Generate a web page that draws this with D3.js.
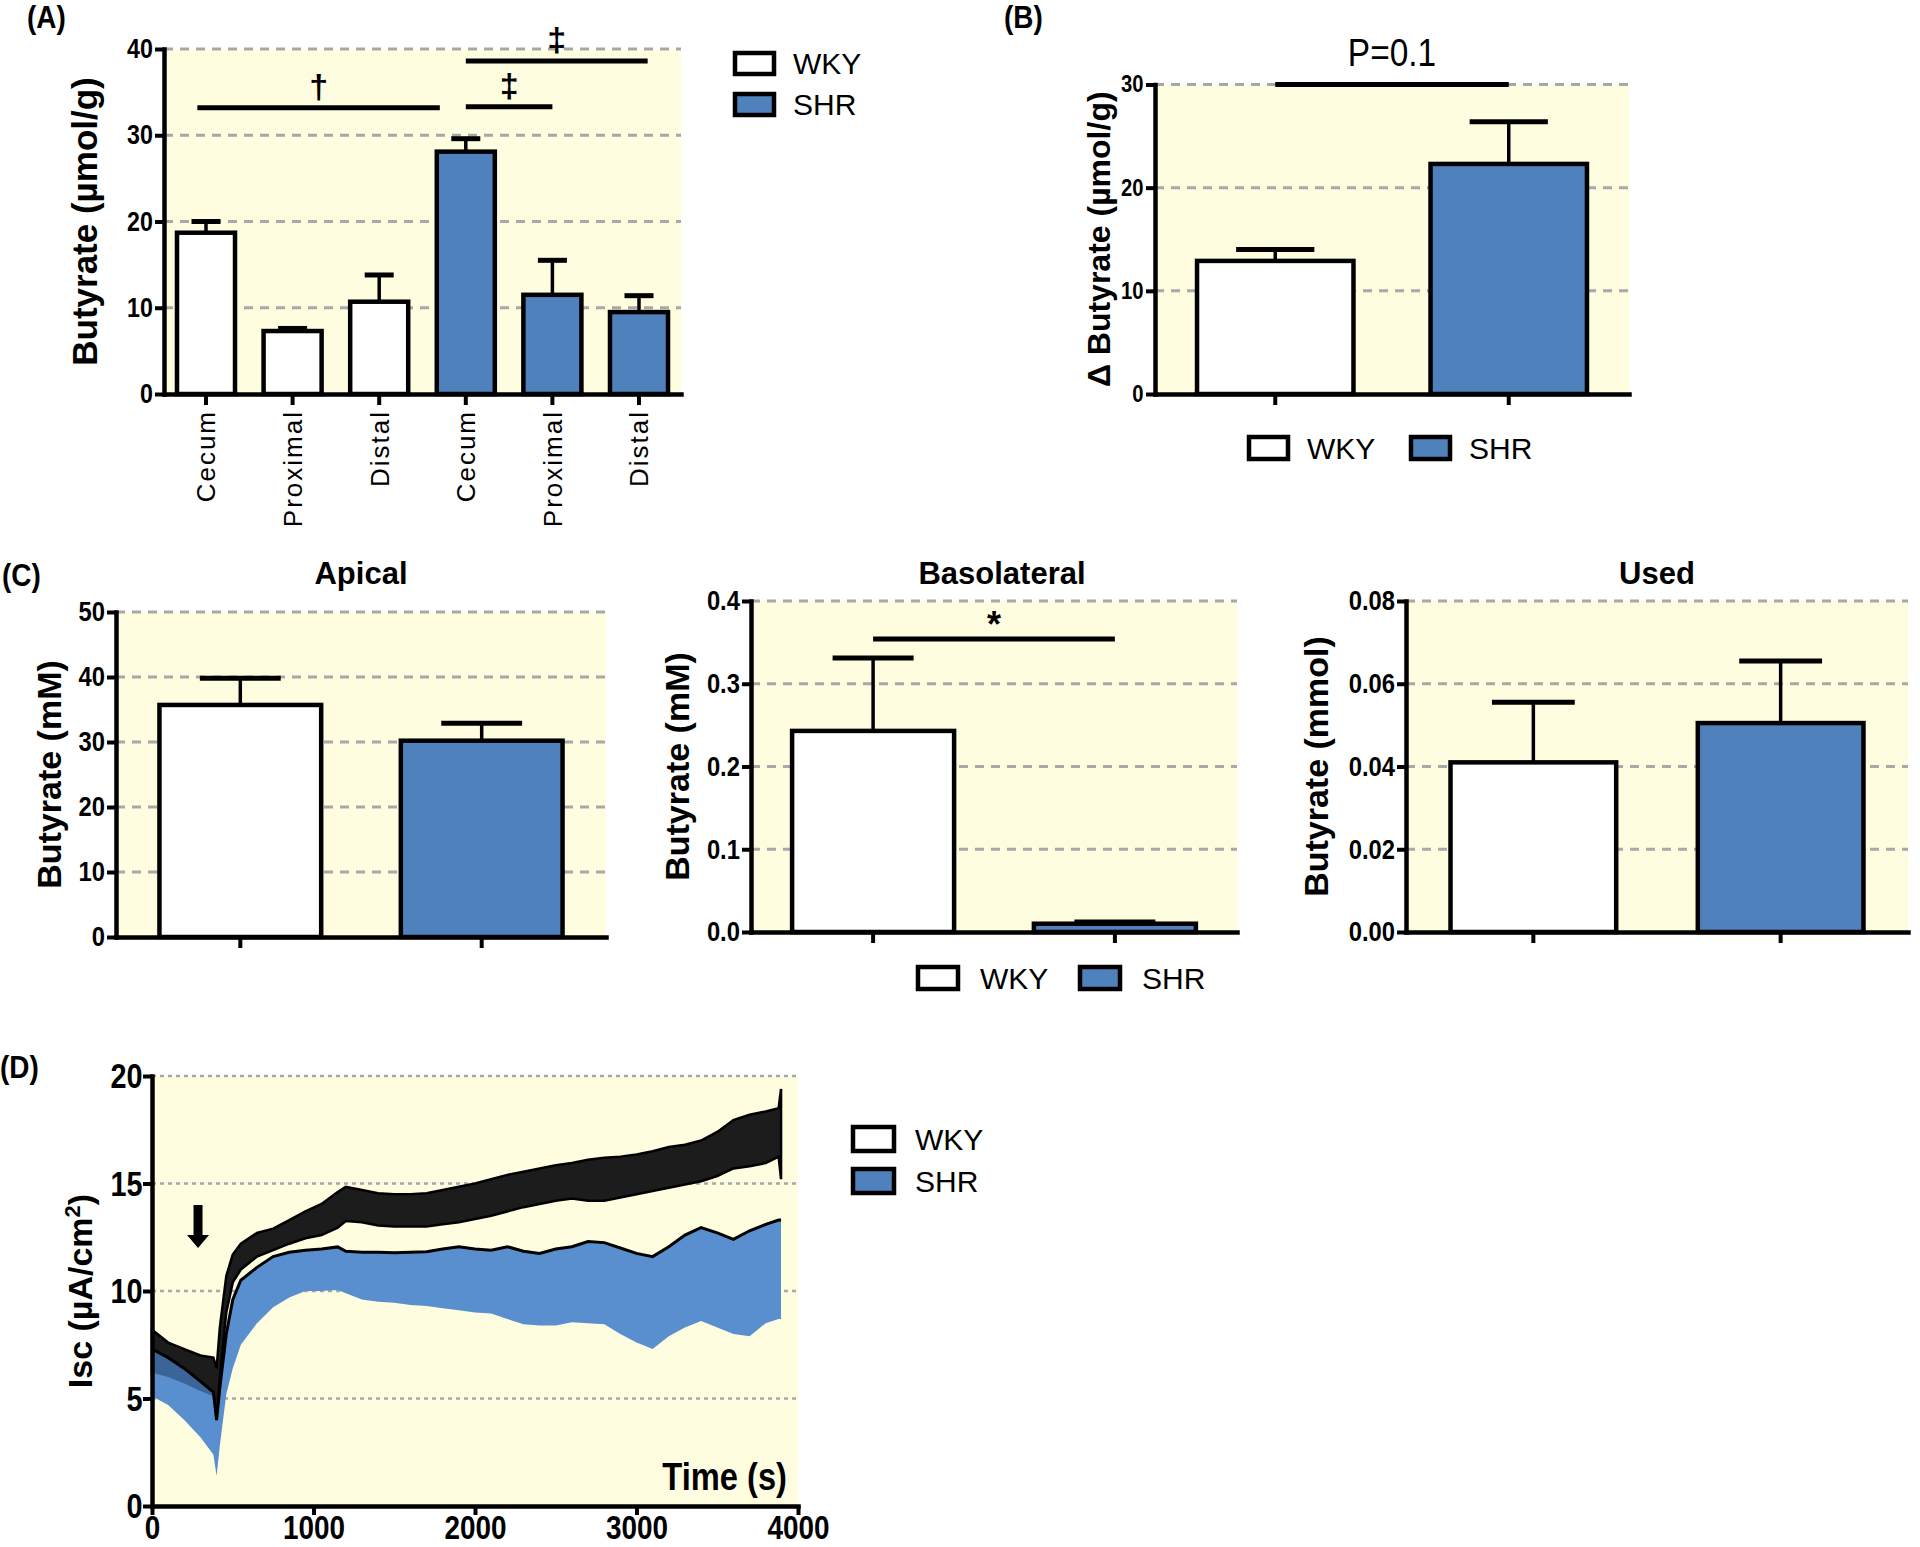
<!DOCTYPE html>
<html>
<head>
<meta charset="utf-8">
<script src="https://cdn.jsdelivr.net/npm/d3@7"></script>
<style>
  body { margin: 0; background: #fff; }
  svg { display: block; font-family: 'Liberation Sans', Arial, sans-serif; }
</style>
</head>
<body>
<div id="chart"></div>
<script>
// ---------- data ----------
let strains = ['WKY', 'SHR'];

// (A) butyrate by gut segment
let segmentsA = ['Cecum', 'Proximal', 'Distal', 'Cecum', 'Proximal', 'Distal'];
let strainA = ['WKY', 'WKY', 'WKY', 'SHR', 'SHR', 'SHR'];
let meanA = [18.7, 7.3, 10.7, 28.1, 11.5, 9.5];
let semA = [1.3, 0.3, 3.1, 1.5, 4.0, 1.9];
let ticksA = [0, 10, 20, 30, 40];
// significance bars: [from index, to index, level, symbol]
let sigA = [[-0.1, 2.7, 33.2, '\u2020'], [3.0, 4.0, 33.3, '\u2021'], [3.0, 5.1, 38.6, '\u2021']];

// (B) delta butyrate
let meanB = [12.9, 22.3];
let semB = [1.1, 4.1];
let ticksB = [0, 10, 20, 30];
let sigB = [0, 1, 30, 'P=0.1'];

// (C) Ussing chamber butyrate
let meanApical = [35.7, 30.2];
let semApical = [4.1, 2.7];
let ticksApical = [0, 10, 20, 30, 40, 50];

let meanBaso = [0.243, 0.010];
let semBaso = [0.088, 0.002];
let ticksBaso = [0, 0.1, 0.2, 0.3, 0.4];
let sigBaso = [0, 1, 0.354, '*'];

let meanUsed = [0.041, 0.0505];
let semUsed = [0.0145, 0.015];
let ticksUsed = [0, 0.02, 0.04, 0.06, 0.08];

// (D) Isc time course, mean +/- SEM envelopes
let timeD = [0, 100, 200, 300, 380, 400, 420, 460, 500, 550, 650, 750, 850, 950, 1050, 1150, 1200,
    1300, 1400, 1500, 1600, 1700, 1800, 1900, 2000, 2100, 2200, 2300, 2400, 2500, 2600, 2700, 2800,
    2900, 3000, 3100, 3200, 3300, 3400, 3500, 3600, 3700, 3800, 3880, 3895];
let wkyHigh = [8.2, 7.6, 7.3, 7.0, 6.9, 6.4, 8.3, 10.7, 11.7, 12.2, 12.7, 12.9, 13.3, 13.7, 14.05, 14.6, 14.85,
    14.7, 14.55, 14.5, 14.5, 14.55, 14.7, 14.85, 15.0, 15.2, 15.4, 15.55, 15.7, 15.85, 15.95, 16.1, 16.2,
    16.25, 16.35, 16.5, 16.7, 16.8, 17.0, 17.4, 17.95, 18.2, 18.35, 18.5, 19.4];
let wkyLow = [6.2, 6.0, 5.7, 5.35, 5.1, 3.9, 6.0, 9.0, 10.4, 11.0, 11.6, 11.9, 12.2, 12.45, 12.6, 12.95, 13.25,
    13.2, 13.05, 13.0, 13.0, 13.0, 13.1, 13.2, 13.35, 13.5, 13.7, 13.9, 14.05, 14.2, 14.3, 14.2, 14.2,
    14.35, 14.5, 14.65, 14.8, 14.95, 15.1, 15.35, 15.7, 15.8, 15.95, 16.25, 15.2];
let shrHigh = [7.3, 6.9, 6.4, 5.8, 5.3, 4.0, 5.5, 8.0, 9.6, 10.5, 11.1, 11.6, 11.8, 11.9, 11.95, 12.05, 11.85,
    11.8, 11.8, 11.78, 11.8, 11.83, 11.95, 12.06, 11.95, 11.9, 12.06, 11.85, 11.75, 11.95, 12.06, 12.3, 12.25,
    12.0, 11.75, 11.6, 12.06, 12.6, 12.95, 12.7, 12.4, 12.8, 13.1, 13.3, 13.3];
let shrLow = [5.1, 4.7, 4.0, 3.2, 2.4, 1.4, 2.8, 5.2, 6.4, 7.5, 8.5, 9.25, 9.7, 10.0, 10.0, 10.05, 9.9,
    9.6, 9.5, 9.45, 9.35, 9.3, 9.2, 9.1, 9.0, 8.95, 8.7, 8.45, 8.4, 8.4, 8.55, 8.5, 8.45,
    8.0, 7.6, 7.3, 7.9, 8.3, 8.6, 8.3, 8.0, 7.9, 8.5, 8.7, 8.7];
let ticksDx = [0, 1000, 2000, 3000, 4000];
let ticksDy = [0, 5, 10, 15, 20];
// butyrate addition: [time, arrow top, arrow tip]
let arrowD = [285, 14.0, 12.0];

// ---------- styles ----------
let cream = '#FFFDE0';
let blue = '#4F81BD';
let blueD = '#5A8FCF';
let blueDark = '#3B6499';
let gridColor = '#A8A8A8';
let fillOf = { WKY: '#ffffff', SHR: blue };

let svg = d3.select('#chart')
    .append('svg')
    .attr('width', 1920)
    .attr('height', 1547);

// Prism style tick labels are bold and a bit condensed
function styleAxis(ax, fontSize, squeeze) {
    ax.select('.domain').attr('stroke-width', 4.5).attr('stroke-linecap', 'square');
    ax.selectAll('.tick line').attr('stroke-width', 4);
    ax.selectAll('.tick text')
        .attr('font-family', "'Liberation Sans', Arial, sans-serif")
        .attr('font-weight', 'bold')
        .attr('font-size', fontSize)
        .attr('fill', '#000')
        .attr('transform', 'scale(' + squeeze + ',1)');
}

function gridLines(g, y, ticks, x1, x2, dash, width) {
    g.selectAll(null)
        .data(ticks.filter(d => d > 0))
        .enter()
        .append('line')
        .attr('x1', x1).attr('x2', x2)
        .attr('y1', d => y(d)).attr('y2', d => y(d))
        .attr('stroke', gridColor)
        .attr('stroke-width', width)
        .attr('stroke-dasharray', dash);
}

function text(g, x, y, str, size, opts) {
    opts = opts || {};
    let sx = opts.squeeze || 1;
    return g.append('text')
        .attr('transform', 'translate(' + x + ',' + y + ') scale(' + sx + ',1)')
        .attr('font-size', size)
        .attr('font-weight', opts.weight || 'normal')
        .attr('text-anchor', opts.anchor || 'start')
        .text(str);
}

// bar chart with one-sided SEM error bars
function barPanel(o) {
    let g = svg.append('g');
    let y = d3.scaleLinear().domain([0, o.max]).range([o.bottom, o.top]);
    let x = d3.scaleBand()
        .domain(d3.range(o.means.length))
        .range([o.left, o.right])
        .paddingInner(0.33)
        .paddingOuter(o.padOuter);

    g.append('rect')
        .attr('x', o.left).attr('y', o.top)
        .attr('width', o.right - o.left).attr('height', o.bottom - o.top)
        .attr('fill', cream);
    gridLines(g, y, o.ticks, o.left, o.right, '9,7', 3);

    let bw = x.bandwidth();
    g.selectAll(null)
        .data(o.means)
        .enter()
        .append('path')
        .attr('d', (d, i) => {
            let cx = x(i) + bw / 2;
            let top = y(d + o.sems[i]);
            return 'M' + cx + ',' + y(d) + 'V' + top;
        })
        .attr('stroke', '#000').attr('stroke-width', 3.5);
    g.selectAll(null)
        .data(o.means)
        .enter()
        .append('line')
        .attr('x1', (d, i) => x(i) + bw * 0.25)
        .attr('x2', (d, i) => x(i) + bw * 0.75)
        .attr('y1', (d, i) => y(d + o.sems[i]))
        .attr('y2', (d, i) => y(d + o.sems[i]))
        .attr('stroke', '#000').attr('stroke-width', 5);

    g.selectAll(null)
        .data(o.means)
        .enter()
        .append('rect')
        .attr('x', (d, i) => x(i))
        .attr('width', bw)
        .attr('y', d => y(d))
        .attr('height', d => y(0) - y(d))
        .attr('fill', (d, i) => fillOf[o.groups[i]])
        .attr('stroke', '#000')
        .attr('stroke-width', 4.5);

    let ya = g.append('g')
        .attr('transform', 'translate(' + o.left + ',0)')
        .call(d3.axisLeft(y).tickValues(o.ticks).tickFormat(o.fmt).tickSize(9).tickSizeOuter(0).tickPadding(4));
    styleAxis(ya, o.tickFont, o.squeeze);

    let xa = g.append('g')
        .attr('transform', 'translate(0,' + o.bottom + ')')
        .call(d3.axisBottom(x).tickSize(11).tickSizeOuter(0).tickFormat(''));
    styleAxis(xa, o.tickFont, 1);

    g.append('text')
        .attr('transform', 'translate(' + (o.left - o.labelGap) + ',' + ((o.top + o.bottom) / 2) + ') rotate(-90)')
        .attr('text-anchor', 'middle')
        .attr('dy', '0.36em')
        .attr('font-size', o.labelFont)
        .attr('font-weight', 'bold')
        .text(o.ylabel);

    if (o.title) {
        text(g, (o.left + o.right) / 2 + (o.titleShift || 0), 584, o.title, 31, { weight: 'bold', anchor: 'middle' });
    }
    return { g: g, x: x, y: y };
}

// significance bar; positions in band index units
function sigBar(p, s, size, gap, weight, squeeze) {
    let idx = d3.scaleLinear().domain([0, 1])
        .range([p.x(0) + p.x.bandwidth() / 2, p.x(1) + p.x.bandwidth() / 2]);
    let yy = p.y(s[2]);
    p.g.append('line')
        .attr('x1', idx(s[0])).attr('x2', idx(s[1]))
        .attr('y1', yy).attr('y2', yy)
        .attr('stroke', '#000').attr('stroke-width', 5);
    text(p.g, (idx(s[0]) + idx(s[1])) / 2, yy - gap, s[3], size, { weight: weight, anchor: 'middle', squeeze: squeeze });
}

function legend(g, x0, y0, dx, dy, w, h, gapText, size) {
    strains.forEach(function(s, i) {
        let bx = x0 + i * dx, by = y0 + i * dy;
        g.append('rect')
            .attr('x', bx).attr('y', by)
            .attr('width', w).attr('height', h)
            .attr('fill', fillOf[s])
            .attr('stroke', '#000')
            .attr('stroke-width', 4.5);
        text(g, bx + w + gapText, by + h / 2, s, size).attr('dy', '0.36em');
    });
}

// ---------- panel A ----------
let pA = barPanel({
    left: 164, right: 681, top: 49, bottom: 394, max: 40,
    means: meanA, sems: semA, groups: strainA, ticks: ticksA, fmt: d3.format('d'),
    padOuter: 0.15, tickFont: 27, squeeze: 0.86,
    ylabel: 'Butyrate (\u00b5mol/g)', labelFont: 35, labelGap: 80
});
pA.g.selectAll(null)
    .data(segmentsA)
    .enter()
    .append('text')
    .attr('transform', (d, i) => 'translate(' + (pA.x(i) + pA.x.bandwidth() / 2) + ',' + 410 + ') rotate(-90)')
    .attr('text-anchor', 'end')
    .attr('dy', '0.36em')
    .attr('font-size', 26)
    .attr('letter-spacing', 2)
    .text(d => d);
sigA.forEach(s => sigBar(pA, s, 34, 10, 'bold', 1));
legend(svg, 735, 53, 0, 41, 39, 21, 19, 30);
text(svg, 27, 28, '(A)', 31, { weight: 'bold', squeeze: 0.9 });

// ---------- panel B ----------
let pB = barPanel({
    left: 1155, right: 1629, top: 84.5, bottom: 394, max: 30,
    means: meanB, sems: semB, groups: strains, ticks: ticksB, fmt: d3.format('d'),
    padOuter: 0.18, tickFont: 23, squeeze: 0.88,
    ylabel: '\u0394 Butyrate (\u00b5mol/g)', labelFont: 32, labelGap: 57
});
sigBar(pB, sigB, 38, 19, 'normal', 0.88);
legend(svg, 1249, 437, 162, 0, 39, 22, 19, 30);
text(svg, 1004, 28, '(B)', 31, { weight: 'bold', squeeze: 0.9 });

// ---------- panel C ----------
let pAp = barPanel({
    left: 116, right: 606, top: 612, bottom: 937, max: 50,
    means: meanApical, sems: semApical, groups: strains, ticks: ticksApical, fmt: d3.format('d'),
    padOuter: 0.18, tickFont: 28, squeeze: 0.85,
    ylabel: 'Butyrate (mM)', labelFont: 34, labelGap: 67, title: 'Apical'
});
let pBa = barPanel({
    left: 751, right: 1237, top: 601, bottom: 932, max: 0.4,
    means: meanBaso, sems: semBaso, groups: strains, ticks: ticksBaso, fmt: d3.format('.1f'),
    padOuter: 0.17, tickFont: 28, squeeze: 0.85,
    ylabel: 'Butyrate (mM)', labelFont: 34, labelGap: 74, title: 'Basolateral', titleShift: 8
});
sigBar(pBa, sigBaso, 36, 2, 'bold', 1);
legend(svg, 918, 967, 162, 0, 40, 22, 22, 30);
let pU = barPanel({
    left: 1406, right: 1908, top: 601, bottom: 932, max: 0.08,
    means: meanUsed, sems: semUsed, groups: strains, ticks: ticksUsed, fmt: d3.format('.2f'),
    padOuter: 0.18, tickFont: 28, squeeze: 0.85,
    ylabel: 'Butyrate (mmol)', labelFont: 34, labelGap: 90, title: 'Used'
});
text(svg, 2, 586, '(C)', 31, { weight: 'bold', squeeze: 0.9 });

// ---------- panel D ----------
let gD = svg.append('g');
let xD = d3.scaleLinear().domain([0, 4000]).range([152, 798]);
let yD = d3.scaleLinear().domain([0, 20]).range([1506, 1076]);

gD.append('rect')
    .attr('x', xD(0)).attr('y', yD(20))
    .attr('width', xD(4000) - xD(0)).attr('height', yD(0) - yD(20))
    .attr('fill', cream);
gridLines(gD, yD, ticksDy, xD(0), xD(4000), '4,4', 2.5);

let band = function(lo, hi) {
    return d3.area()
        .x((d, i) => xD(timeD[i]))
        .y0((d, i) => yD(lo[i]))
        .y1((d, i) => yD(hi[i]));
};
let overlapLo = timeD.map((t, i) => Math.max(shrLow[i], wkyLow[i]));
let overlapHi = timeD.map((t, i) => Math.max(overlapLo[i], Math.min(shrHigh[i], wkyHigh[i])));

gD.append('path')
    .attr('d', band(wkyLow, wkyHigh)(timeD))
    .attr('fill', '#1c1c1c')
    .attr('stroke', '#000')
    .attr('stroke-width', 2.5);
gD.append('path')
    .attr('d', band(shrLow, shrHigh)(timeD))
    .attr('fill', blueD);
gD.append('path')
    .attr('d', band(overlapLo, overlapHi)(timeD))
    .attr('fill', blueDark);
gD.append('path')
    .attr('d', d3.line().x((d, i) => xD(timeD[i])).y((d, i) => yD(shrHigh[i]))(timeD))
    .attr('fill', 'none')
    .attr('stroke', '#000')
    .attr('stroke-width', 3);

// arrow marking butyrate addition
let ax0 = xD(arrowD[0]), ayTop = yD(arrowD[1]), ayTip = yD(arrowD[2]);
gD.append('path')
    .attr('d', 'M' + (ax0 - 4.5) + ',' + ayTop + 'H' + (ax0 + 4.5) + 'V' + (ayTip - 13) +
        'H' + (ax0 + 11) + 'L' + ax0 + ',' + ayTip + 'L' + (ax0 - 11) + ',' + (ayTip - 13) +
        'H' + (ax0 - 4.5) + 'Z')
    .attr('fill', '#000');

let yaD = gD.append('g')
    .attr('transform', 'translate(' + xD(0) + ',0)')
    .call(d3.axisLeft(yD).tickValues(ticksDy).tickFormat(d3.format('d')).tickSize(9).tickSizeOuter(0).tickPadding(3));
styleAxis(yaD, 36, 0.8);
let xaD = gD.append('g')
    .attr('transform', 'translate(0,' + yD(0) + ')')
    .call(d3.axisBottom(xD).tickValues(ticksDx).tickFormat(d3.format('d')).tickSize(9).tickSizeOuter(0).tickPadding(0));
styleAxis(xaD, 34, 0.82);

let yl = gD.append('text')
    .attr('transform', 'translate(' + (xD(0) - 72) + ',' + ((yD(0) + yD(20)) / 2) + ') rotate(-90)')
    .attr('text-anchor', 'middle')
    .attr('dy', '0.36em')
    .attr('font-size', 34)
    .attr('font-weight', 'bold');
yl.append('tspan').text('Isc (\u00b5A/cm');
yl.append('tspan').attr('font-size', 22).attr('baseline-shift', 'super').text('2');
yl.append('tspan').text(')');

text(gD, xD(4000) - 11, 1490, 'Time (s)', 38, { weight: 'bold', anchor: 'end', squeeze: 0.86 });
legend(svg, 853, 1127, 0, 42, 41, 24, 21, 30);
text(svg, 0, 1078, '(D)', 31, { weight: 'bold', squeeze: 0.9 });
</script>
</body>
</html>
